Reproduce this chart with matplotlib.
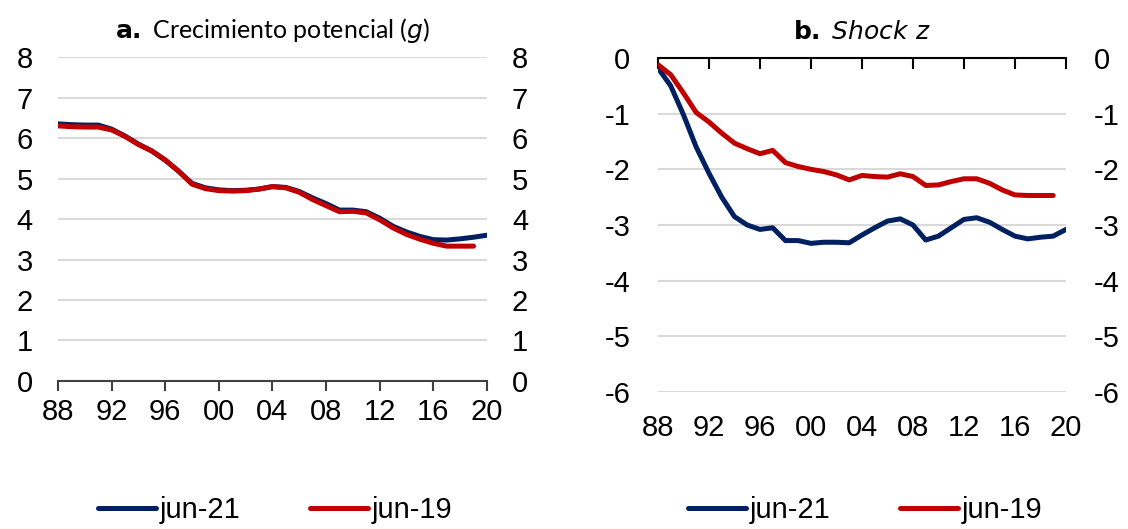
import matplotlib.pyplot as plt

### Data -------------------------------------------------------------------

years = list(range(1988, 2021))
years_19 = list(range(1988, 2020))

# a. Crecimiento potencial (g)
g_jun21 = [6.35, 6.33, 6.32, 6.32, 6.22, 6.05, 5.85, 5.68, 5.45, 5.18, 4.88,
           4.77, 4.72, 4.70, 4.71, 4.74, 4.80, 4.78, 4.68, 4.52, 4.38, 4.22,
           4.22, 4.18, 4.02, 3.82, 3.68, 3.57, 3.49, 3.48, 3.51, 3.55, 3.60]
g_jun19 = [6.30, 6.28, 6.27, 6.27, 6.20, 6.04, 5.84, 5.68, 5.46, 5.18, 4.86,
           4.75, 4.70, 4.69, 4.70, 4.74, 4.80, 4.77, 4.66, 4.48, 4.33, 4.18,
           4.19, 4.15, 3.98, 3.78, 3.62, 3.50, 3.40, 3.33, 3.33, 3.33]

# b. Shock z
z_jun21 = [-0.18, -0.50, -1.02, -1.60, -2.07, -2.50, -2.85, -3.00, -3.08,
           -3.05, -3.28, -3.28, -3.33, -3.31, -3.31, -3.32, -3.18, -3.05,
           -2.93, -2.89, -3.00, -3.27, -3.20, -3.05, -2.90, -2.87, -2.95,
           -3.08, -3.20, -3.25, -3.22, -3.20, -3.08]
z_jun19 = [-0.12, -0.30, -0.63, -0.98, -1.15, -1.35, -1.53, -1.63, -1.72,
           -1.66, -1.88, -1.95, -2.00, -2.04, -2.10, -2.19, -2.11, -2.13,
           -2.14, -2.08, -2.13, -2.29, -2.28, -2.22, -2.17, -2.17, -2.25,
           -2.37, -2.46, -2.47, -2.47, -2.47]

xtick_years = [1988, 1992, 1996, 2000, 2004, 2008, 2012, 2016, 2020]
xtick_labels = ["88", "92", "96", "00", "04", "08", "12", "16", "20"]

blue = "#002060"
red = "#C00000"
grid_col = "#d9d9d9"

plt.rcParams["font.family"] = ["Liberation Sans", "DejaVu Sans"]
plt.rcParams["axes.unicode_minus"] = False

fig = plt.figure(figsize=(11.28, 5.29), dpi=100)
ax1 = fig.add_axes([0.0514, 0.2798, 0.3803, 0.6124])
ax2 = fig.add_axes([0.5833, 0.2590, 0.3617, 0.6314])

### Panel a ----------------------------------------------------------------

la1, = ax1.plot(years, g_jun21, color=blue, lw=3.6, solid_capstyle="round", label="jun-21")
la2, = ax1.plot(years_19, g_jun19, color=red, lw=3.6, solid_capstyle="round", label="jun-19")
ax1.set_xlim(1988, 2020)
ax1.set_ylim(0, 8)
ax1.set_yticks(range(0, 9))
ax1.set_xticks(xtick_years)
ax1.set_xticklabels(xtick_labels)
ax1.grid(axis="y", color=grid_col, lw=1.5, zorder=0)
ax1.set_axisbelow(True)
for s in ["top", "left", "right"]:
    ax1.spines[s].set_visible(False)
ax1.spines["bottom"].set_color("#404040")
ax1.spines["bottom"].set_linewidth(1.5)
ax1.tick_params(axis="x", direction="out", length=7, width=1.5, color="#404040",
                labelsize=21, pad=5)
ax1.tick_params(axis="y", length=0, labelsize=21, pad=18, labelright=True)
ax1.set_title(r"$\bf{a.}$ Crecimiento potencial ($g$)", fontsize=18, family="Lato", pad=14)

### Panel b ----------------------------------------------------------------

lb1, = ax2.plot(years, z_jun21, color=blue, lw=3.6, solid_capstyle="round", label="jun-21")
lb2, = ax2.plot(years_19, z_jun19, color=red, lw=3.6, solid_capstyle="round", label="jun-19")
ax2.set_xlim(1988, 2020)
ax2.set_ylim(-6, 0)
ax2.set_yticks(range(-6, 1))
ax2.set_xticks(xtick_years)
ax2.set_xticklabels(xtick_labels)
ax2.grid(axis="y", color=grid_col, lw=1.5, zorder=0)
ax2.set_axisbelow(True)
for s in ["bottom", "left", "right"]:
    ax2.spines[s].set_visible(False)
ax2.spines["top"].set_color("black")
ax2.spines["top"].set_linewidth(1.5)
ax2.tick_params(axis="x", top=True, bottom=False, direction="in", length=8,
                width=1.5, labelsize=21, pad=16)
ax2.tick_params(axis="y", length=0, labelsize=21, pad=20, labelright=True)
ax2.set_title(r"$\bf{b.}$ $\it{Shock\ z}$", fontsize=18, family="Lato", pad=14)

### Legends ----------------------------------------------------------------

for handles, cx in [([la1, la2], 275 / 1128), ([lb1, lb2], 865 / 1128)]:
    fig.legend(handles=handles, loc="center", bbox_to_anchor=(cx, 0.036),
               ncol=2, frameon=False, fontsize=21, handlelength=2.0,
               handletextpad=0.1, columnspacing=2.4)

fig.savefig("out.png", dpi=100)
